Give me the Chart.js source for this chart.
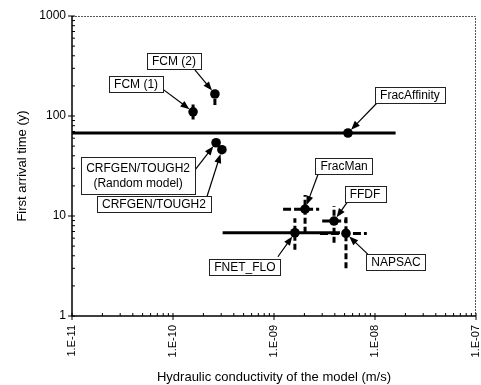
<!DOCTYPE html>
<html>
<head>
<meta charset="utf-8">
<script src="https://cdn.jsdelivr.net/npm/chart.js@4.4.0/dist/chart.umd.min.js"></script>
<style>
html, body { margin: 0; padding: 0; background: #fff; }
</style>
</head>
<body>
<canvas id="grafica" width="481" height="385"></canvas>
<script>
// datos
const modelos = ['FCM (1)', 'FCM (2)', 'CRFGEN/TOUGH2\n(Random model)', 'CRFGEN/TOUGH2', 'FracAffinity', 'FracMan', 'FFDF', 'FNET_FLO', 'NAPSAC']
const conductividad = [1.58e-10, 2.6e-10, 2.67e-10, 3.05e-10, 5.4e-9, 2.03e-9, 3.93e-9, 1.61e-9, 5.16e-9]
const tiempo = [110, 166, 54, 46, 67.6, 11.7, 8.9, 6.8, 6.7]
const kMin = [null, null, null, null, 1e-11, 1.23e-9, 3.0e-9, 3.1e-10, 2.85e-9]
const kMax = [null, null, null, null, 1.6e-8, 2.8e-9, 5.3e-9, 4.5e-9, 8.3e-9]
const tMin = [92, 129, null, null, null, 6.8, 5.4, 4.6, 3.0]
const tMax = [130, 190, null, null, null, 16.2, 12.6, 9.5, 9.8]

const xTicks = [1e-11, 1e-10, 1e-9, 1e-8, 1e-7]
const xTickLabels = ['1.E-11', '1.E-10', '1.E-09', '1.E-08', '1.E-07']
const yTicks = [1, 10, 100, 1000]
const yTickLabels = ['1', '10', '100', '1000']

// donde va cada etiqueta, en pixeles respecto al punto (caja y cola de la flecha)
const etiquetas = [
    { dx: -57, dy: -28, ax: -32, ay: -24 },
    { dx: -41, dy: -33, ax: -20, ay: -24 },
    { dx: -78, dy: 33, ax: -21, ay: 27 },
    { dx: -68, dy: 54, ax: -15, ay: 47 },
    { dx: 62, dy: -38, ax: 29, ay: -30 },
    { dx: 39, dy: -43, ax: 13, ay: -35 },
    { dx: 31, dy: -27, ax: 14, ay: -20 },
    { dx: -50, dy: 34, ax: -17, ay: 24 },
    { dx: 50, dy: 29, ax: 22, ay: 21 }
]
const lineasSolidas = ['FracAffinity', 'FNET_FLO']

const datasets = []
for (let i = 0; i < modelos.length; i++) {
    if (kMin[i] != null) {
        let solida = lineasSolidas.includes(modelos[i])
        datasets.push({
            data: [{ x: kMin[i], y: tiempo[i] }, { x: kMax[i], y: tiempo[i] }],
            showLine: true,
            borderColor: '#000',
            borderWidth: 3,
            borderDash: solida ? [] : [8, 3],
            pointRadius: 0
        })
    }
    if (tMin[i] != null) {
        datasets.push({
            data: [{ x: conductividad[i], y: tMin[i] }, { x: conductividad[i], y: tMax[i] }],
            showLine: true,
            borderColor: '#000',
            borderWidth: 3,
            borderDash: [6, 3],
            pointRadius: 0
        })
    }
}
datasets.push({
    data: conductividad.map((k, i) => ({ x: k, y: tiempo[i] })),
    pointRadius: 4.8,
    pointBackgroundColor: '#000',
    pointBorderColor: '#000',
    pointBorderWidth: 0
})

const fuente = '"Liberation Sans", Arial, sans-serif'

const marco = {
    id: 'marco',
    beforeDatasetsDraw(chart) {
        const ctx = chart.ctx
        const a = chart.chartArea
        const sx = chart.scales.x
        const sy = chart.scales.y
        ctx.save()
        ctx.strokeStyle = '#555'
        ctx.lineWidth = 1
        ctx.setLineDash([2, 1])
        ctx.beginPath()
        ctx.moveTo(a.left, a.top + 0.5)
        ctx.lineTo(a.right - 0.5, a.top + 0.5)
        ctx.lineTo(a.right - 0.5, a.bottom)
        ctx.stroke()
        ctx.setLineDash([])
        ctx.strokeStyle = '#000'
        ctx.lineWidth = 1.5
        ctx.beginPath()
        ctx.moveTo(a.left, a.top)
        ctx.lineTo(a.left, a.bottom)
        ctx.lineTo(a.right, a.bottom)
        ctx.stroke()
        ctx.lineWidth = 1
        ctx.beginPath()
        for (let d = 0; d < xTicks.length; d++) {
            let px = sx.getPixelForValue(xTicks[d])
            ctx.moveTo(px, a.bottom - 3)
            ctx.lineTo(px, a.bottom + 4)
            if (d < xTicks.length - 1) {
                for (let m = 2; m < 10; m++) {
                    let mx = sx.getPixelForValue(xTicks[d] * m)
                    ctx.moveTo(mx, a.bottom)
                    ctx.lineTo(mx, a.bottom - 3)
                }
            }
        }
        for (let d = 0; d < yTicks.length; d++) {
            let py = sy.getPixelForValue(yTicks[d])
            ctx.moveTo(a.left - 4, py)
            ctx.lineTo(a.left + 3, py)
            if (d < yTicks.length - 1) {
                for (let m = 2; m < 10; m++) {
                    let my = sy.getPixelForValue(yTicks[d] * m)
                    ctx.moveTo(a.left, my)
                    ctx.lineTo(a.left + 3, my)
                }
            }
        }
        ctx.stroke()
        ctx.restore()
    },
    afterDatasetsDraw(chart) {
        const ctx = chart.ctx
        const sx = chart.scales.x
        const sy = chart.scales.y
        ctx.save()
        ctx.font = '12px ' + fuente
        ctx.textAlign = 'center'
        ctx.textBaseline = 'middle'
        for (let i = 0; i < modelos.length; i++) {
            const e = etiquetas[i]
            const px = sx.getPixelForValue(conductividad[i])
            const py = sy.getPixelForValue(tiempo[i])
            const lineas = modelos[i].split('\n')
            const gap = 15
            const padV = lineas.length > 1 ? 4 : 1
            let w = 0
            lineas.forEach(l => { w = Math.max(w, ctx.measureText(l).width) })
            w += 10
            const h = 14 + gap * (lineas.length - 1) + padV * 2
            const cx = px + e.dx
            const cy = py + e.dy
            // flecha
            const tx = px + e.ax
            const ty = py + e.ay
            const ang = Math.atan2(py - ty, px - tx)
            const hx = px - Math.cos(ang) * 4.5
            const hy = py - Math.sin(ang) * 4.5
            ctx.strokeStyle = '#000'
            ctx.lineWidth = 1.2
            ctx.beginPath()
            ctx.moveTo(tx, ty)
            ctx.lineTo(hx - Math.cos(ang) * 6, hy - Math.sin(ang) * 6)
            ctx.stroke()
            ctx.fillStyle = '#000'
            ctx.beginPath()
            ctx.moveTo(hx, hy)
            ctx.lineTo(hx - Math.cos(ang) * 9 + Math.sin(ang) * 3.5, hy - Math.sin(ang) * 9 - Math.cos(ang) * 3.5)
            ctx.lineTo(hx - Math.cos(ang) * 9 - Math.sin(ang) * 3.5, hy - Math.sin(ang) * 9 + Math.cos(ang) * 3.5)
            ctx.closePath()
            ctx.fill()
            // caja
            const bx = Math.round(cx - w / 2) + 0.5
            const by = Math.round(cy - h / 2) + 0.5
            ctx.fillStyle = '#fff'
            ctx.fillRect(bx, by, Math.round(w), Math.round(h))
            ctx.strokeStyle = '#222'
            ctx.lineWidth = 1
            ctx.strokeRect(bx, by, Math.round(w), Math.round(h))
            ctx.fillStyle = '#000'
            const y0 = cy - gap * (lineas.length - 1) / 2
            lineas.forEach((l, j) => ctx.fillText(l, cx, y0 + j * gap + 0.5))
        }
        ctx.restore()
    }
}

const config = {
    type: 'scatter',
    data: { datasets: datasets },
    options: {
        responsive: false,
        animation: false,
        layout: { padding: { top: 16, right: 5, left: 0, bottom: 0 } },
        plugins: { legend: { display: false }, tooltip: { enabled: false } },
        scales: {
            x: {
                type: 'logarithmic',
                min: 1e-11,
                max: 1e-7,
                afterBuildTicks: s => { s.ticks = xTicks.map(v => ({ value: v })) },
                afterFit: s => {
                    s.height = 69
                    s.paddingLeft = 0
                    s.paddingRight = 0
                },
                grid: { display: false, drawTicks: false },
                border: { display: false },
                ticks: {
                    color: '#000',
                    font: { size: 11, family: fuente },
                    minRotation: 90,
                    maxRotation: 90,
                    padding: 9,
                    autoSkip: false,
                    callback: (v, i) => xTickLabels[i]
                },
                title: {
                    display: true,
                    text: 'Hydraulic conductivity of the model (m/s)',
                    color: '#000',
                    font: { size: 13, family: fuente },
                    padding: { top: 0, bottom: 0 }
                }
            },
            y: {
                type: 'logarithmic',
                min: 1,
                max: 1000,
                afterBuildTicks: s => { s.ticks = yTicks.map(v => ({ value: v })) },
                afterFit: s => {
                    s.width = 72
                    s.paddingTop = 0
                    s.paddingBottom = 0
                },
                grid: { display: false, drawTicks: false },
                border: { display: false },
                ticks: {
                    color: '#000',
                    font: { size: 12, family: fuente },
                    padding: 6,
                    autoSkip: false,
                    callback: (v, i) => yTickLabels[i]
                },
                title: {
                    display: true,
                    text: 'First arrival time (y)',
                    color: '#000',
                    font: { size: 13, family: fuente },
                    padding: { top: 15, bottom: 0 }
                }
            }
        }
    },
    plugins: [marco]
}

let myChart = new Chart(document.getElementById('grafica'), config)
</script>
</body>
</html>
